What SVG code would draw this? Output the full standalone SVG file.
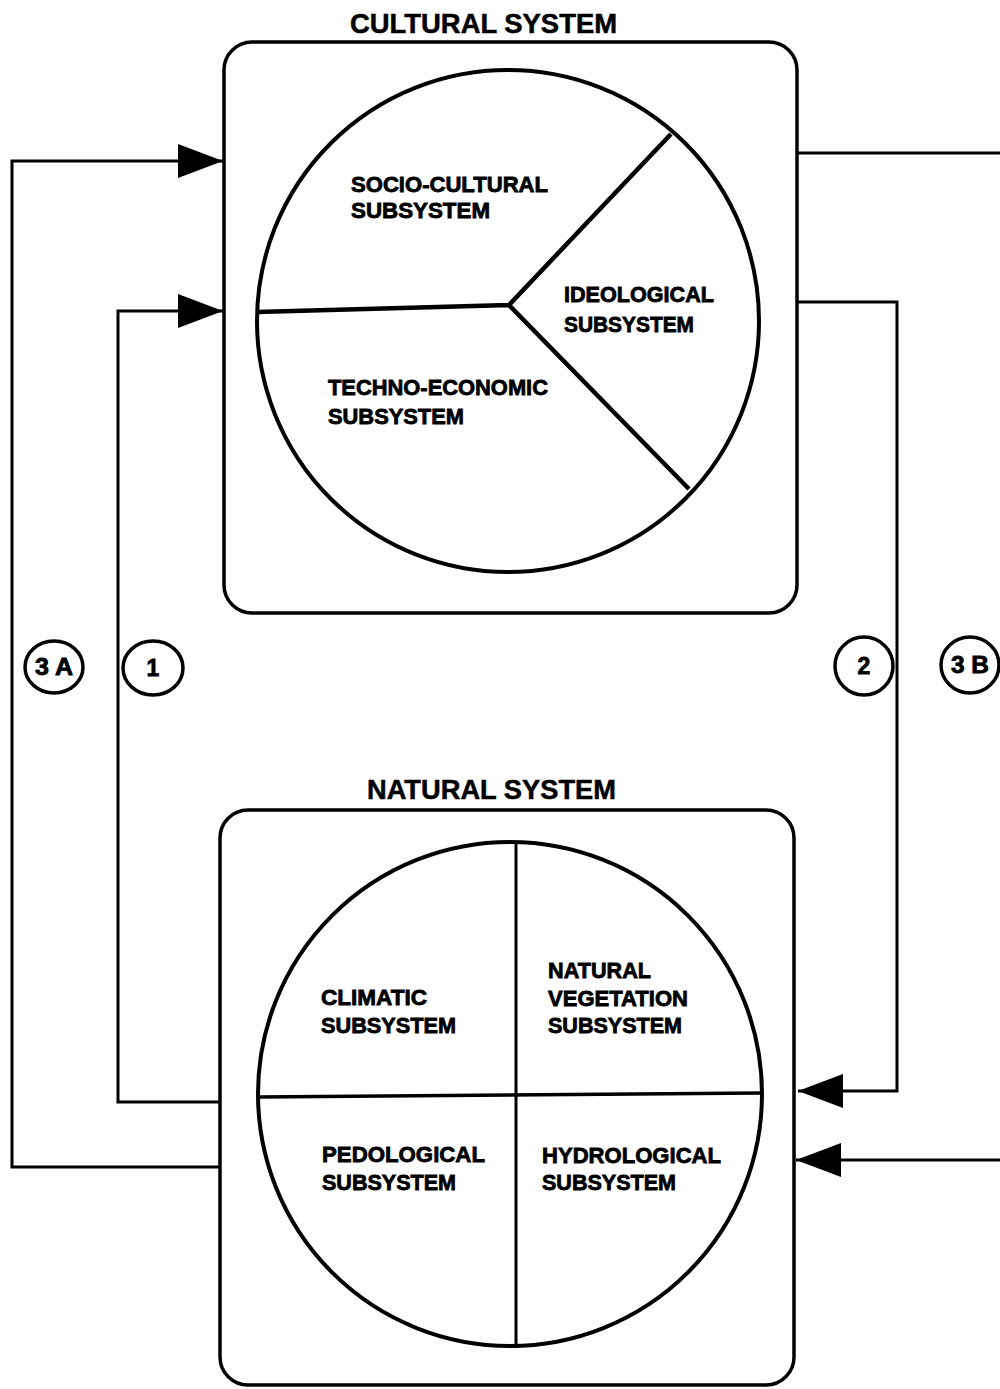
<svg xmlns="http://www.w3.org/2000/svg" width="1000" height="1389" viewBox="0 0 1000 1389">
<style>
.box{fill:none;stroke:#000;stroke-width:3.5}
.circ{fill:none;stroke:#000;stroke-width:4}
.pie{fill:none;stroke:#000;stroke-width:4.5}
.pie2{fill:none;stroke:#000;stroke-width:3}
.conn{fill:none;stroke:#000;stroke-width:3}
.lab{font-family:"Liberation Sans",Arial,sans-serif;font-weight:bold;font-size:22.5px;fill:#000;stroke:#000;stroke-width:0.8}
.title{font-family:"Liberation Sans",Arial,sans-serif;font-weight:bold;font-size:27px;fill:#000;stroke:#000;stroke-width:0.5}
.num{font-family:"Liberation Sans",Arial,sans-serif;font-weight:bold;font-size:23px;fill:#000;stroke:#000;stroke-width:0.8;text-anchor:middle}
.badge{fill:#fff;stroke:#000;stroke-width:3.5}
</style>
<defs>
<marker id="ah" markerUnits="userSpaceOnUse" markerWidth="46" markerHeight="36" refX="45" refY="17" orient="auto">
<path d="M0,0 L45,17 L0,34 Z" fill="#000"/>
</marker>
</defs>
<rect width="1000" height="1389" fill="#fff"/>

<g id="connectors">
<path class="conn" d="M220,1167 H12 V161 H223" marker-end="url(#ah)"/>
<path class="conn" d="M220,1102 H118 V311 H223" marker-end="url(#ah)"/>
<path class="conn" d="M797,302 H897 V1091 H798" marker-end="url(#ah)"/>
<path class="conn" d="M797,153 H1000"/>
<path class="conn" d="M1000,1160 H796" marker-end="url(#ah)"/>
</g>

<g id="cultural-system">
<text class="title" x="350" y="33" textLength="267" lengthAdjust="spacingAndGlyphs">CULTURAL SYSTEM</text>
<rect class="box" x="224" y="42" width="573" height="571" rx="28"/>
<circle class="circ" cx="508" cy="321" r="251"/>
<path class="pie" d="M257,312 L509,305 L671,134 M509,305 L689,489"/>
</g>
<g id="socio-cultural">
<text class="lab" x="351" y="192" textLength="197" lengthAdjust="spacingAndGlyphs">SOCIO-CULTURAL</text>
<text class="lab" x="351" y="218" textLength="139" lengthAdjust="spacingAndGlyphs">SUBSYSTEM</text>
</g>
<g id="ideological">
<text class="lab" x="564" y="302" textLength="150" lengthAdjust="spacingAndGlyphs">IDEOLOGICAL</text>
<text class="lab" x="564" y="332" textLength="130" lengthAdjust="spacingAndGlyphs">SUBSYSTEM</text>
</g>
<g id="techno-economic">
<text class="lab" x="328" y="395" textLength="220" lengthAdjust="spacingAndGlyphs">TECHNO-ECONOMIC</text>
<text class="lab" x="328" y="424" textLength="136" lengthAdjust="spacingAndGlyphs">SUBSYSTEM</text>
</g>

<g id="natural-system">
<text class="title" x="367" y="799" textLength="249" lengthAdjust="spacingAndGlyphs">NATURAL SYSTEM</text>
<rect class="box" x="220" y="810" width="574" height="575" rx="28"/>
<circle class="circ" cx="510" cy="1094" r="252"/>
<path class="pie2" d="M516,842 V1348"/>
<path class="pie" d="M258,1097 L762,1093" style="stroke-width:3.5"/>
</g>
<g id="climatic">
<text class="lab" x="321" y="1005" textLength="106" lengthAdjust="spacingAndGlyphs">CLIMATIC</text>
<text class="lab" x="321" y="1033" textLength="135" lengthAdjust="spacingAndGlyphs">SUBSYSTEM</text>
</g>
<g id="natural-vegetation">
<text class="lab" x="548" y="978" textLength="103" lengthAdjust="spacingAndGlyphs">NATURAL</text>
<text class="lab" x="548" y="1006" textLength="140" lengthAdjust="spacingAndGlyphs">VEGETATION</text>
<text class="lab" x="548" y="1033" textLength="134" lengthAdjust="spacingAndGlyphs">SUBSYSTEM</text>
</g>
<g id="pedological">
<text class="lab" x="322" y="1162" textLength="163" lengthAdjust="spacingAndGlyphs">PEDOLOGICAL</text>
<text class="lab" x="322" y="1190" textLength="134" lengthAdjust="spacingAndGlyphs">SUBSYSTEM</text>
</g>
<g id="hydrological">
<text class="lab" x="542" y="1163" textLength="179" lengthAdjust="spacingAndGlyphs">HYDROLOGICAL</text>
<text class="lab" x="542" y="1190" textLength="134" lengthAdjust="spacingAndGlyphs">SUBSYSTEM</text>
</g>

<g id="label-3a">
<ellipse class="badge" cx="54" cy="667" rx="29" ry="26"/>
<text class="num" x="54" y="675" textLength="38" lengthAdjust="spacingAndGlyphs">3 A</text>
</g>
<g id="label-1">
<ellipse class="badge" cx="153" cy="668" rx="30" ry="27"/>
<text class="num" x="153" y="676">1</text>
</g>
<g id="label-2">
<ellipse class="badge" cx="864" cy="666" rx="29" ry="29"/>
<text class="num" x="864" y="674">2</text>
</g>
<g id="label-3b">
<ellipse class="badge" cx="970" cy="665" rx="29" ry="28"/>
<text class="num" x="970" y="673" textLength="38" lengthAdjust="spacingAndGlyphs">3 B</text>
</g>
</svg>
